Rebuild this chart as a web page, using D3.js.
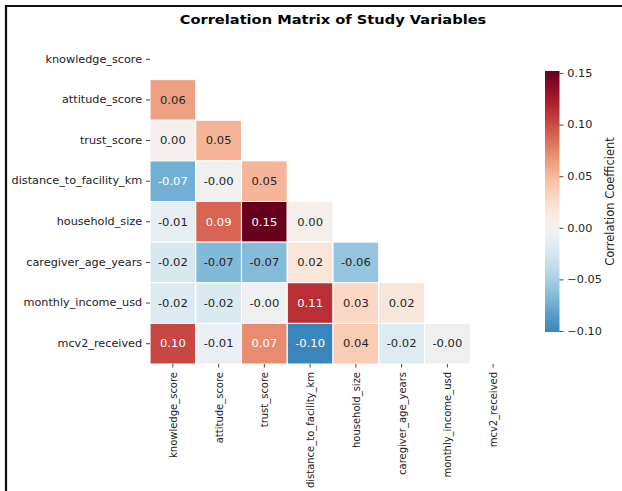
<!DOCTYPE html>
<html>
<head>
<meta charset="utf-8">
<script src="https://cdn.jsdelivr.net/npm/d3@7"></script>
<style>
  html, body { margin: 0; padding: 0; background: #fff; }
  svg { display: block; font-family: "DejaVu Sans", sans-serif; }
</style>
</head>
<body>
<svg id="chart" width="622" height="491"></svg>
<script>
// Variables in the matrix, in row/column order
const variables = [
  "knowledge_score", "attitude_score", "trust_score", "distance_to_facility_km",
  "household_size", "caregiver_age_years", "monthly_income_usd", "mcv2_received"
];

// Lower-triangle correlation coefficients, one array per row (row i holds columns 0..i-1)
const rowKnowledge = [];
const rowAttitude = [0.062];
const rowTrust = [0.003, 0.052];
const rowDistance = [-0.073, -0.002, 0.051];
const rowHousehold = [-0.012, 0.089, 0.152, 0.004];
const rowCaregiver = [-0.024, -0.067, -0.066, 0.018, -0.058];
const rowIncome = [-0.020, -0.021, -0.003, 0.113, 0.030, 0.017];
const rowMcv2 = [0.102, -0.010, 0.072, -0.101, 0.038, -0.019, -0.004];

const lowerRows = [rowKnowledge, rowAttitude, rowTrust, rowDistance,
                   rowHousehold, rowCaregiver, rowIncome, rowMcv2];

// Colour bar ticks
const colorbarTicks = [-0.10, -0.05, 0.00, 0.05, 0.10, 0.15];

const titleText = "Correlation Matrix of Study Variables";
const colorbarLabel = "Correlation Coefficient";

const svg = d3.select("#chart");

// Frame line along the top and left edges
svg.append("path")
  .attr("d", "M6,491 L6,6 L622,6")
  .attr("fill", "none").attr("stroke", "#111").attr("stroke-width", 2.2);

// The figure is drawn in a horizontally widened frame
const sx = 1.125;
const root = svg.append("g").attr("transform", `scale(${sx},1)`);

const cells = [];
lowerRows.forEach((row, i) => row.forEach((v, j) => cells.push({ i, j, v })));

const values = cells.map(d => d.v);
const vmin = d3.min(values), vmax = d3.max(values);
// Diverging map centred on zero, stretched to the larger side
const vrange = Math.max(vmax, -vmin);
const color = v => d3.interpolateRdBu(1 - (v + vrange) / (2 * vrange));

const grid = { left: 150 / sx, top: 39, right: 516 / sx, bottom: 364 };
const x = d3.scaleBand().domain(variables).range([grid.left, grid.right]);
const y = d3.scaleBand().domain(variables).range([grid.top, grid.bottom]);

// Title
root.append("text")
  .attr("x", (grid.left + grid.right) / 2).attr("y", 24)
  .attr("text-anchor", "middle")
  .attr("font-size", 13).attr("font-weight", "bold")
  .attr("fill", "#000")
  .text(titleText);

// Cells
const fmt = v => (v < 0 ? "-" : "") + Math.abs(v).toFixed(2);
function luminance(c) {
  const rgb = d3.rgb(c);
  const lin = [rgb.r, rgb.g, rgb.b].map(u => {
    u /= 255;
    return u <= 0.03928 ? u / 12.92 : Math.pow((u + 0.055) / 1.055, 2.4);
  });
  return 0.2126 * lin[0] + 0.7152 * lin[1] + 0.0722 * lin[2];
}

const g = root.append("g");
g.selectAll("rect.cell").data(cells).join("rect")
  .attr("class", "cell")
  .attr("x", d => x(variables[d.j]))
  .attr("y", d => y(variables[d.i]))
  .attr("width", x.bandwidth())
  .attr("height", y.bandwidth())
  .attr("fill", d => color(d.v))
  .attr("stroke", "#fff").attr("stroke-width", 1);

g.selectAll("text.val").data(cells).join("text")
  .attr("class", "val")
  .attr("x", d => x(variables[d.j]) + x.bandwidth() / 2)
  .attr("y", d => y(variables[d.i]) + y.bandwidth() / 2)
  .attr("dy", "0.36em")
  .attr("text-anchor", "middle")
  .attr("font-size", 10.3)
  .attr("fill", d => luminance(color(d.v)) > 0.408 ? "#262626" : "#ffffff")
  .text(d => fmt(d.v));

// Y axis (row labels)
const yAxis = root.append("g")
  .attr("transform", `translate(${grid.left},0)`)
  .call(d3.axisLeft(y).tickSize(3.5).tickPadding(3.5));
yAxis.select(".domain").remove();
yAxis.selectAll("text").attr("font-size", 10).attr("fill", "#222")
  .attr("font-family", "DejaVu Sans, sans-serif");
yAxis.selectAll("line").attr("stroke", "#222").attr("stroke-width", 0.8);

// X axis (column labels, vertical)
const xAxis = root.append("g")
  .attr("transform", `translate(0,${grid.bottom})`)
  .call(d3.axisBottom(x).tickSize(3.5).tickPadding(3.5));
xAxis.select(".domain").remove();
xAxis.selectAll("line").attr("stroke", "#222").attr("stroke-width", 0.8);
xAxis.selectAll("text")
  .attr("font-size", 10).attr("fill", "#222")
  .attr("font-family", "DejaVu Sans, sans-serif")
  .attr("text-anchor", "end")
  .attr("transform", "rotate(-90)")
  .attr("x", -8).attr("y", 0).attr("dy", "0.35em");

// Colour bar
const cb = { x: 545 / sx, w: 14.5 / sx, top: 71, bottom: 332 };
const cScale = d3.scaleLinear().domain([vmin, vmax]).range([cb.bottom, cb.top]);

const defs = svg.append("defs");
const grad = defs.append("linearGradient")
  .attr("id", "cbgrad").attr("x1", 0).attr("y1", 1).attr("x2", 0).attr("y2", 0);
d3.range(0, 1.0001, 0.02).forEach(t => {
  const v = vmin + t * (vmax - vmin);
  grad.append("stop").attr("offset", t).attr("stop-color", color(v));
});
root.append("rect")
  .attr("x", cb.x).attr("y", cb.top)
  .attr("width", cb.w).attr("height", cb.bottom - cb.top)
  .attr("fill", "url(#cbgrad)");

const cAxis = root.append("g")
  .attr("transform", `translate(${cb.x + cb.w},0)`)
  .call(d3.axisRight(cScale).tickValues(colorbarTicks).tickSize(3.5).tickPadding(3.5)
    .tickFormat(v => (v < 0 ? "\u2212" : "") + Math.abs(v).toFixed(2)));
cAxis.select(".domain").remove();
cAxis.selectAll("line").attr("stroke", "#222").attr("stroke-width", 0.8);
cAxis.selectAll("text").attr("font-size", 10).attr("fill", "#222")
  .attr("font-family", "DejaVu Sans, sans-serif");

root.append("text")
  .attr("transform", `translate(${614 / sx},${(cb.top + cb.bottom) / 2}) rotate(-90)`)
  .attr("text-anchor", "middle")
  .attr("font-size", 11.5).attr("fill", "#222")
  .text(colorbarLabel);
</script>
</body>
</html>
